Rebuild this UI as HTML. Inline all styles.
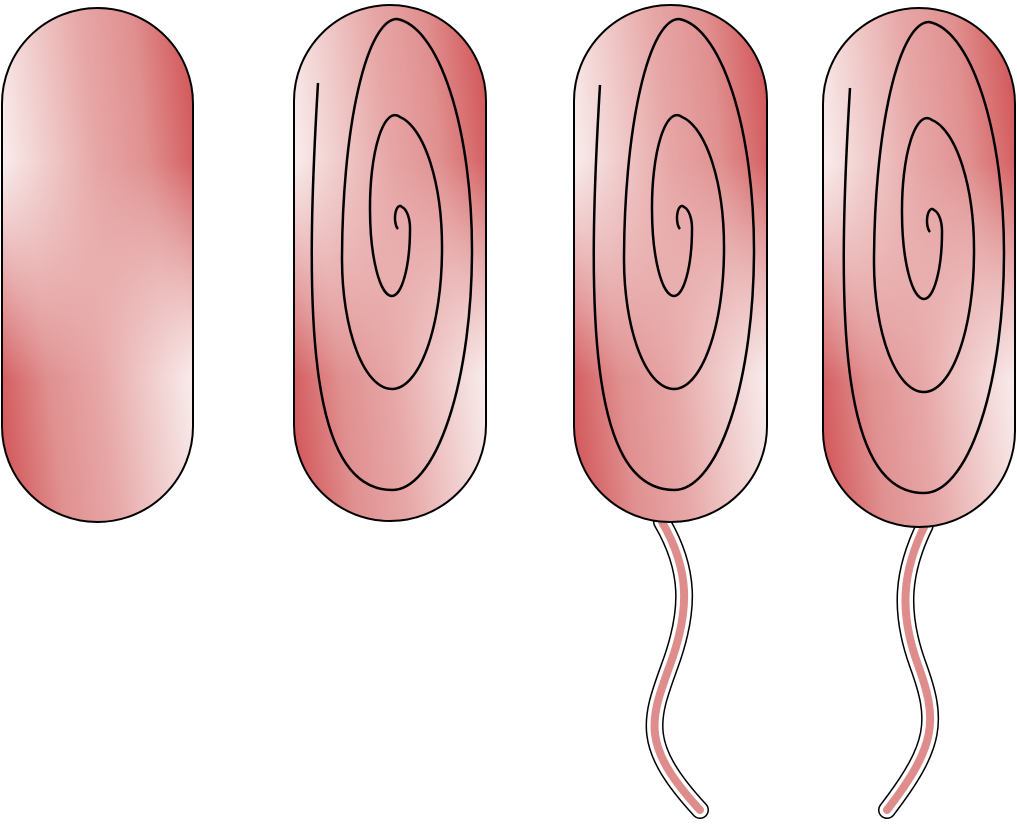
<!DOCTYPE html>
<html><head><meta charset="utf-8"><style>
html,body{margin:0;padding:0;background:#fff;}
svg{display:block;}
</style></head><body>
<svg width="1017" height="825" viewBox="0 0 1017 825">
<defs>
<linearGradient id="gt" x1="0" y1="0.3" x2="1" y2="0">
<stop offset="0" stop-color="#f9eded"/>
<stop offset="0.45" stop-color="#e7a7a7"/>
<stop offset="0.7" stop-color="#e09090"/>
<stop offset="1" stop-color="#d04f52"/>
</linearGradient>
<linearGradient id="gb" x1="0" y1="1" x2="1" y2="0.7">
<stop offset="0" stop-color="#d04f52"/>
<stop offset="0.3" stop-color="#e09090"/>
<stop offset="0.55" stop-color="#e7a7a7"/>
<stop offset="1" stop-color="#f9eded"/>
</linearGradient>
<linearGradient id="mg" x1="0" y1="0" x2="0" y2="1">
<stop offset="0.3" stop-color="#000"/>
<stop offset="0.72" stop-color="#fff"/>
</linearGradient>
<mask id="m" maskContentUnits="objectBoundingBox">
<rect x="0" y="0" width="1" height="1" fill="url(#mg)"/>
</mask>
</defs>

<g>
<path d="M 662 522 C 690 570, 690 610, 670 665 S 640 745, 700 810" fill="none" stroke="#000" stroke-width="18" stroke-linecap="round"/>
<path d="M 662 522 C 690 570, 690 610, 670 665 S 640 745, 700 810" fill="none" stroke="#fff" stroke-width="15" stroke-linecap="round"/>
<path d="M 662 522 C 690 570, 690 610, 670 665 S 640 745, 700 810" fill="none" stroke="#de8c8c" stroke-width="8" stroke-linecap="round"/>
</g>
<g>
<path d="M 925 525 C 903 570, 898 610, 918 665 S 937 745, 887 810" fill="none" stroke="#000" stroke-width="18" stroke-linecap="round"/>
<path d="M 925 525 C 903 570, 898 610, 918 665 S 937 745, 887 810" fill="none" stroke="#fff" stroke-width="15" stroke-linecap="round"/>
<path d="M 925 525 C 903 570, 898 610, 918 665 S 937 745, 887 810" fill="none" stroke="#de8c8c" stroke-width="8" stroke-linecap="round"/>
</g>

<g>
<rect x="2" y="8" width="191" height="514" rx="95.5" ry="95.5" fill="url(#gt)"/>
<rect x="2" y="8" width="191" height="514" rx="95.5" ry="95.5" fill="url(#gb)" mask="url(#m)"/>
<rect x="2" y="8" width="191" height="514" rx="95.5" ry="95.5" fill="none" stroke="#000" stroke-width="2"/>
</g>
<g>
<rect x="294" y="5" width="192" height="516" rx="96" ry="96" fill="url(#gt)"/>
<rect x="294" y="5" width="192" height="516" rx="96" ry="96" fill="url(#gb)" mask="url(#m)"/>
<rect x="294" y="5" width="192" height="516" rx="96" ry="96" fill="none" stroke="#000" stroke-width="2"/>
</g>
<g>
<rect x="574" y="5" width="193" height="517" rx="96" ry="96" fill="url(#gt)"/>
<rect x="574" y="5" width="193" height="517" rx="96" ry="96" fill="url(#gb)" mask="url(#m)"/>
<rect x="574" y="5" width="193" height="517" rx="96" ry="96" fill="none" stroke="#000" stroke-width="2"/>
</g>
<g>
<rect x="823" y="8" width="192" height="519" rx="96" ry="96" fill="url(#gt)"/>
<rect x="823" y="8" width="192" height="519" rx="96" ry="96" fill="url(#gb)" mask="url(#m)"/>
<rect x="823" y="8" width="192" height="519" rx="96" ry="96" fill="none" stroke="#000" stroke-width="2"/>
</g>

<g fill="none" stroke="#000" stroke-width="2.5">
<path transform="translate(392,0)" d="M -74 83 C -87 300, -87 490, 0 490 A 80 240 0 0 0 80 250 A 80 232 0 0 0 5 19 A 55 242 0 0 0 -50 260 A 50 130 0 0 0 0 389 A 50 140 0 0 0 50 250 A 50 132 0 0 0 8 117 A 25 92 0 0 0 -22 210 A 22 87 0 0 0 0 296 A 18 67 0 0 0 18 230 A 10 22 0 0 0 10 207 A 5 12 0 0 0 6 229"/>
<path transform="translate(674,0)" d="M -74 85 C -87 300, -87 490, 0 490 A 80 240 0 0 0 80 250 A 80 232 0 0 0 5 19 A 55 242 0 0 0 -50 260 A 50 130 0 0 0 0 389 A 50 140 0 0 0 50 250 A 50 132 0 0 0 8 117 A 25 92 0 0 0 -22 210 A 22 87 0 0 0 0 296 A 18 67 0 0 0 18 230 A 10 22 0 0 0 10 207 A 5 12 0 0 0 6 229"/>
<path transform="translate(924,3)" d="M -74 85 C -87 300, -87 490, 0 490 A 80 240 0 0 0 80 250 A 80 232 0 0 0 5 19 A 55 242 0 0 0 -50 260 A 50 130 0 0 0 0 389 A 50 140 0 0 0 50 250 A 50 132 0 0 0 8 117 A 25 92 0 0 0 -22 210 A 22 87 0 0 0 0 296 A 18 67 0 0 0 18 230 A 10 22 0 0 0 10 207 A 5 12 0 0 0 6 229"/>
</g>
</svg>
</body></html>
